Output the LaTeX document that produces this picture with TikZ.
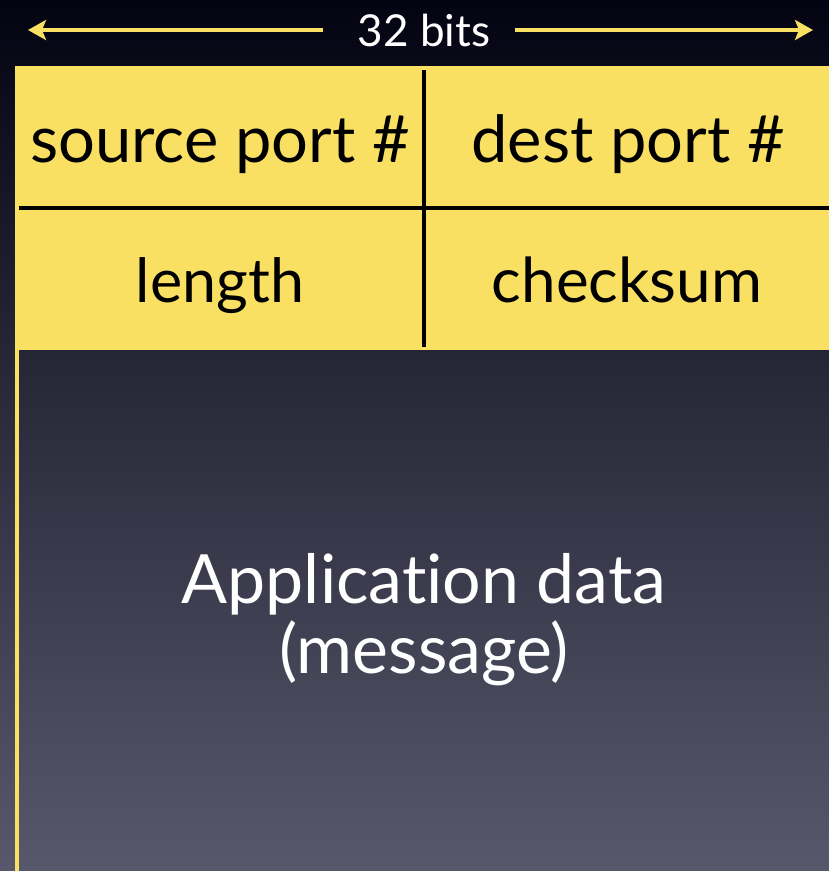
\documentclass[tikz,border=0pt]{standalone}
\usepackage{fontspec}
\setmainfont{Lato}[Ligatures={NoCommon,NoRare}]
\usetikzlibrary{arrows.meta}
\definecolor{hdryellow}{RGB}{249,224,98}
\definecolor{bgtop}{RGB}{3,3,18}
\definecolor{bgmid}{RGB}{30,30,62}
\definecolor{bgbot}{RGB}{88,88,108}
\tikzset{
  celltext/.style={anchor=base, inner sep=0pt, text=black},
  whitetext/.style={anchor=base, inner sep=0pt, text=white},
  divider/.style={black, line width=4.5pt},
  bitarrow/.style={hdryellow, line width=3.5pt, -{Stealth[length=18pt,width=20pt,inset=4pt]}}
}
\begin{document}
\begin{tikzpicture}[x=1pt,y=-1pt]
\useasboundingbox (0,0) rectangle (829,871);
% background gradient
\shade[top color=bgtop, middle color=bgmid, bottom color=bgbot] (0,0) rectangle (829,871);
% header box
\fill[hdryellow] (15,66) rectangle (829,350);
\fill[hdryellow] (15,350) rectangle (19,871);
% dividers
\coordinate (vtop) at (424,70);
\coordinate (vbot) at (424,347);
\coordinate (hl) at (19,208);
\coordinate (hr) at (829,208);
\draw[divider] (vtop) -- (vbot);
\draw[divider] (hl) -- (hr);
% 32 bits arrow
\node[whitetext, font=\fontsize{44}{50}\selectfont] (bits) at (424,46) {32 bits};
\coordinate (aLs) at (323,30);
\coordinate (aL) at (28,30);
\coordinate (aRs) at (515,30);
\coordinate (aR) at (813,30);
\draw[bitarrow] (aLs) -- (aL);
\draw[bitarrow] (aRs) -- (aR);
% cell texts
\node[celltext, font=\fontsize{65}{70}\selectfont] (src) at (220,162) {source port \#};
\node[celltext, font=\fontsize{65}{70}\selectfont] (dst) at (628,162) {dest port \#};
\node[celltext, font=\fontsize{61}{70}\selectfont] (len) at (220,302) {length};
\node[celltext, font=\fontsize{62}{70}\selectfont] (chk) at (627,302) {checksum};
% payload
\node[whitetext, font=\fontsize{68}{70}\selectfont] (app) at (424,603) {Applicat\kern0pt ion data};
\node[whitetext, font=\fontsize{68}{70}\selectfont] (msg) at (424,673) {(message)};
\end{tikzpicture}
\end{document}
